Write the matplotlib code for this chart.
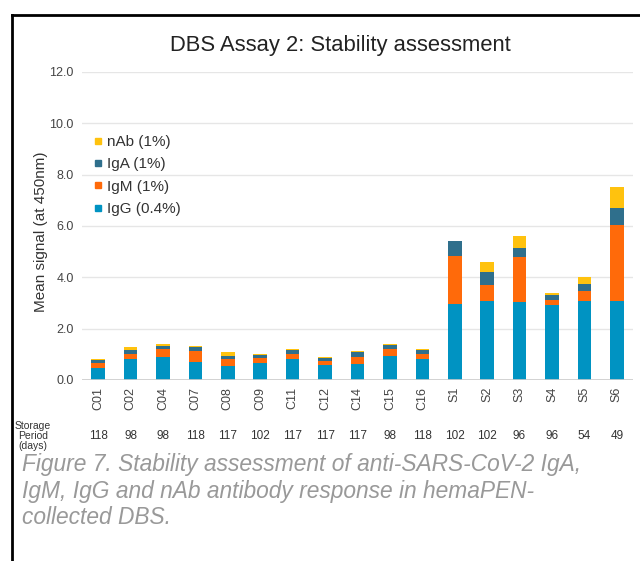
import numpy as np
import matplotlib
matplotlib.use('Agg')
import matplotlib.pyplot as plt
from matplotlib.lines import Line2D
from matplotlib.transforms import blended_transform_factory

plt.rcParams['font.family'] = ['Liberation Sans', 'DejaVu Sans']

samples = ['C01', 'C02', 'C04', 'C07', 'C08', 'C09', 'C11', 'C12', 'C14', 'C15', 'C16',
           'S1', 'S2', 'S3', 'S4', 'S5', 'S6']
days = [118, 98, 98, 118, 117, 102, 117, 117, 117, 98, 118, 102, 102, 96, 96, 54, 49]

igg = [0.46, 0.80, 0.89, 0.69, 0.54, 0.67, 0.80, 0.59, 0.62, 0.93, 0.83,
       2.96, 3.07, 3.03, 2.94, 3.07, 3.07]
igm = [0.19, 0.22, 0.30, 0.43, 0.26, 0.18, 0.22, 0.14, 0.29, 0.29, 0.19,
       1.89, 0.62, 1.75, 0.17, 0.39, 2.95]
iga = [0.11, 0.16, 0.14, 0.15, 0.12, 0.14, 0.16, 0.11, 0.19, 0.14, 0.15,
       0.55, 0.50, 0.36, 0.22, 0.29, 0.67]
nab = [0.05, 0.09, 0.08, 0.06, 0.19, 0.03, 0.02, 0.04, 0.02, 0.03, 0.02,
       0.03, 0.41, 0.48, 0.06, 0.26, 0.84]

series = [('IgG (0.4%)', igg, '#0093c2'),
          ('IgM (1%)', igm, '#ff6a0a'),
          ('IgA (1%)', iga, '#2f6f8c'),
          ('nAb (1%)', nab, '#ffc20e')]

fig = plt.figure(figsize=(6.4, 5.61), dpi=100)
ax = fig.add_axes([82 / 640, 1 - 380 / 561, (633 - 82) / 640, (380 - 72) / 561])

x = np.arange(len(samples))
bottom = np.zeros(len(samples))
handles = []
for name, vals, col in series:
    ax.bar(x, vals, width=0.42, bottom=bottom, color=col, zorder=3)
    bottom += np.array(vals)
    handles.append(Line2D([], [], marker='s', ls='', color=col, markersize=4.5, label=name))

ax.set_ylim(0, 12)
ax.set_xlim(-0.5, 16.5)
ax.set_yticks(np.arange(0, 12.1, 2))
ax.set_yticklabels(['%.1f' % v for v in np.arange(0, 12.1, 2)], fontsize=9, color='#444444')
ax.yaxis.grid(True, color='#e6e6e6', lw=1, zorder=0)
ax.axhline(0, color='#cccccc', lw=1.2, zorder=4)
for s in ax.spines.values():
    s.set_visible(False)
ax.tick_params(axis='y', length=0, pad=6)
ax.set_xticks(x)
ax.set_xticklabels(samples, rotation=90, fontsize=9, color='#444444')
ax.tick_params(axis='x', length=0, pad=5)
fig.text(41 / 640, 1 - 232 / 561, 'Mean signal (at 450nm)', rotation=90, ha='center',
         va='center', fontsize=11, color='#333333')

leg = ax.legend(handles=handles[::-1], loc='upper left', bbox_to_anchor=(-0.01, 0.84),
                frameon=False, fontsize=11, handletextpad=0.1, handlelength=1.0,
                labelspacing=0.55, labelcolor='#333333')

trans = blended_transform_factory(ax.transData, fig.transFigure)
for xi, d in zip(x, days):
    ax.text(xi, 1 - 436 / 561, str(d), transform=trans, ha='center', va='center',
            fontsize=8.5, color='#333333')
fig.text(33 / 640, 1 - 436 / 561, 'Storage\nPeriod\n(days)', ha='center', va='center',
         fontsize=7.5, color='#333333', linespacing=1.05)

fig.text(340 / 640, 1 - 45 / 561, 'DBS Assay 2: Stability assessment', ha='center', va='center',
         fontsize=15.8, color='#222222')

fig.text(22 / 640, 1 - 453 / 561,
         'Figure 7. Stability assessment of anti-SARS-CoV-2 IgA,\n'
         'IgM, IgG and nAb antibody response in hemaPEN-\n'
         'collected DBS.',
         ha='left', va='top', fontsize=16.4, style='italic', color='#999999', linespacing=1.2)

fig.add_artist(Line2D([12 / 640, 1], [1 - 15 / 561, 1 - 15 / 561], color='black', lw=2))
fig.add_artist(Line2D([12 / 640, 12 / 640], [0, 1 - 15 / 561], color='black', lw=2))

fig.savefig('out.png', dpi=100)
